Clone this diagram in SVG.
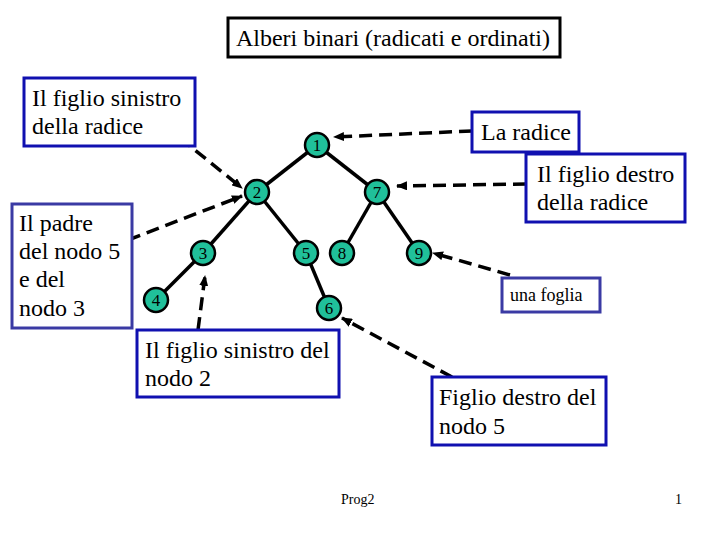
<svg xmlns="http://www.w3.org/2000/svg" width="720" height="540" viewBox="0 0 720 540">
<style>
.t{font-family:"Liberation Serif","Times New Roman",serif;fill:#000}
.big{font-size:24px}
.box{fill:#fff;stroke:#1010b0;stroke-width:3}
.box2{fill:#fff;stroke:#3a3aa4;stroke-width:3}
.edge{stroke:#000;stroke-width:3.5;fill:none}
.dash{stroke:#000;stroke-width:3.5;fill:none;stroke-dasharray:13 7;marker-end:url(#ah)}
.nd{fill:#20c09a;stroke:#000;stroke-width:2.5}
.nl{font-family:"Liberation Serif","Times New Roman",serif;font-size:17px;text-anchor:middle}
</style>
<defs>
<marker id="ah" markerUnits="userSpaceOnUse" markerWidth="11" markerHeight="9" refX="10" refY="4.5" orient="auto">
<path d="M0,0 L11,4.5 L0,9 Z" fill="#000"/>
</marker>
</defs>
<rect width="720" height="540" fill="#fff"/>
<g id="title">
<rect x="228" y="18" width="332" height="39" fill="#fff" stroke="#000" stroke-width="3"/>
<text class="t" x="236" y="46" font-size="24" textLength="314">Alberi binari (radicati e ordinati)</text>
</g>
<g id="edges">
<line class="edge" x1="317" y1="145" x2="257" y2="192"/>
<line class="edge" x1="317" y1="145" x2="377" y2="192"/>
<line class="edge" x1="257" y1="192" x2="203" y2="253"/>
<line class="edge" x1="257" y1="192" x2="306" y2="253"/>
<line class="edge" x1="377" y1="192" x2="342" y2="253"/>
<line class="edge" x1="377" y1="192" x2="419" y2="253"/>
<line class="edge" x1="203" y1="253" x2="156" y2="300"/>
<line class="edge" x1="306" y1="253" x2="329" y2="308"/>
</g>
<g id="connectors">
<line class="dash" x1="472" y1="131" x2="334" y2="137"/>
<line class="dash" x1="526" y1="184" x2="397" y2="186"/>
<line class="dash" x1="180" y1="138" x2="242" y2="188"/>
<line class="dash" x1="128" y1="240" x2="242" y2="196"/>
<line class="dash" x1="198" y1="330" x2="205" y2="276"/>
<line class="dash" x1="452" y1="377" x2="342" y2="318"/>
<line class="dash" x1="510" y1="275" x2="433" y2="253"/>
</g>
<g id="n1"><circle class="nd" cx="317" cy="145" r="12"/><text class="nl" x="317" y="151">1</text></g>
<g id="n2"><circle class="nd" cx="257" cy="192" r="12"/><text class="nl" x="257" y="198">2</text></g>
<g id="n7"><circle class="nd" cx="377" cy="192" r="12"/><text class="nl" x="377" y="198">7</text></g>
<g id="n3"><circle class="nd" cx="203" cy="253" r="12"/><text class="nl" x="203" y="259">3</text></g>
<g id="n5"><circle class="nd" cx="306" cy="253" r="12"/><text class="nl" x="306" y="259">5</text></g>
<g id="n8"><circle class="nd" cx="342" cy="253" r="12"/><text class="nl" x="342" y="259">8</text></g>
<g id="n9"><circle class="nd" cx="419" cy="253" r="12"/><text class="nl" x="419" y="259">9</text></g>
<g id="n4"><circle class="nd" cx="156" cy="300" r="12"/><text class="nl" x="156" y="306">4</text></g>
<g id="n6"><circle class="nd" cx="329" cy="308" r="12"/><text class="nl" x="329" y="314">6</text></g>
<g id="lbl-sinistro-radice">
<rect class="box" x="24" y="78" width="171" height="68"/>
<text class="t big" x="32" y="106">Il figlio sinistro</text>
<text class="t big" x="32" y="134">della radice</text>
</g>
<g id="lbl-padre">
<rect class="box2" x="12" y="204" width="120" height="124"/>
<text class="t big" x="19" y="231">Il padre</text>
<text class="t big" x="19" y="259">del nodo 5</text>
<text class="t big" x="19" y="287">e del</text>
<text class="t big" x="19" y="316">nodo 3</text>
</g>
<g id="lbl-radice">
<rect class="box" x="472" y="112" width="107" height="40"/>
<text class="t big" x="481" y="140">La radice</text>
</g>
<g id="lbl-destro-radice">
<rect class="box" x="526" y="154" width="159" height="68"/>
<text class="t big" x="537" y="182">Il figlio destro</text>
<text class="t big" x="537" y="210">della radice</text>
</g>
<g id="lbl-foglia">
<rect class="box2" x="502" y="278" width="98" height="34"/>
<text class="t" x="510" y="301" font-size="18">una foglia</text>
</g>
<g id="lbl-sinistro-2">
<rect class="box" x="137" y="330" width="202" height="67"/>
<text class="t big" x="145" y="358">Il figlio sinistro del</text>
<text class="t big" x="145" y="386">nodo 2</text>
</g>
<g id="lbl-destro-5">
<rect class="box" x="432" y="377" width="174" height="68"/>
<text class="t big" x="439" y="405">Figlio destro del</text>
<text class="t big" x="439" y="434">nodo 5</text>
</g>
<text class="t" x="341" y="504" font-size="14">Prog2</text>
<text class="t" x="675" y="504" font-size="14">1</text>
</svg>
